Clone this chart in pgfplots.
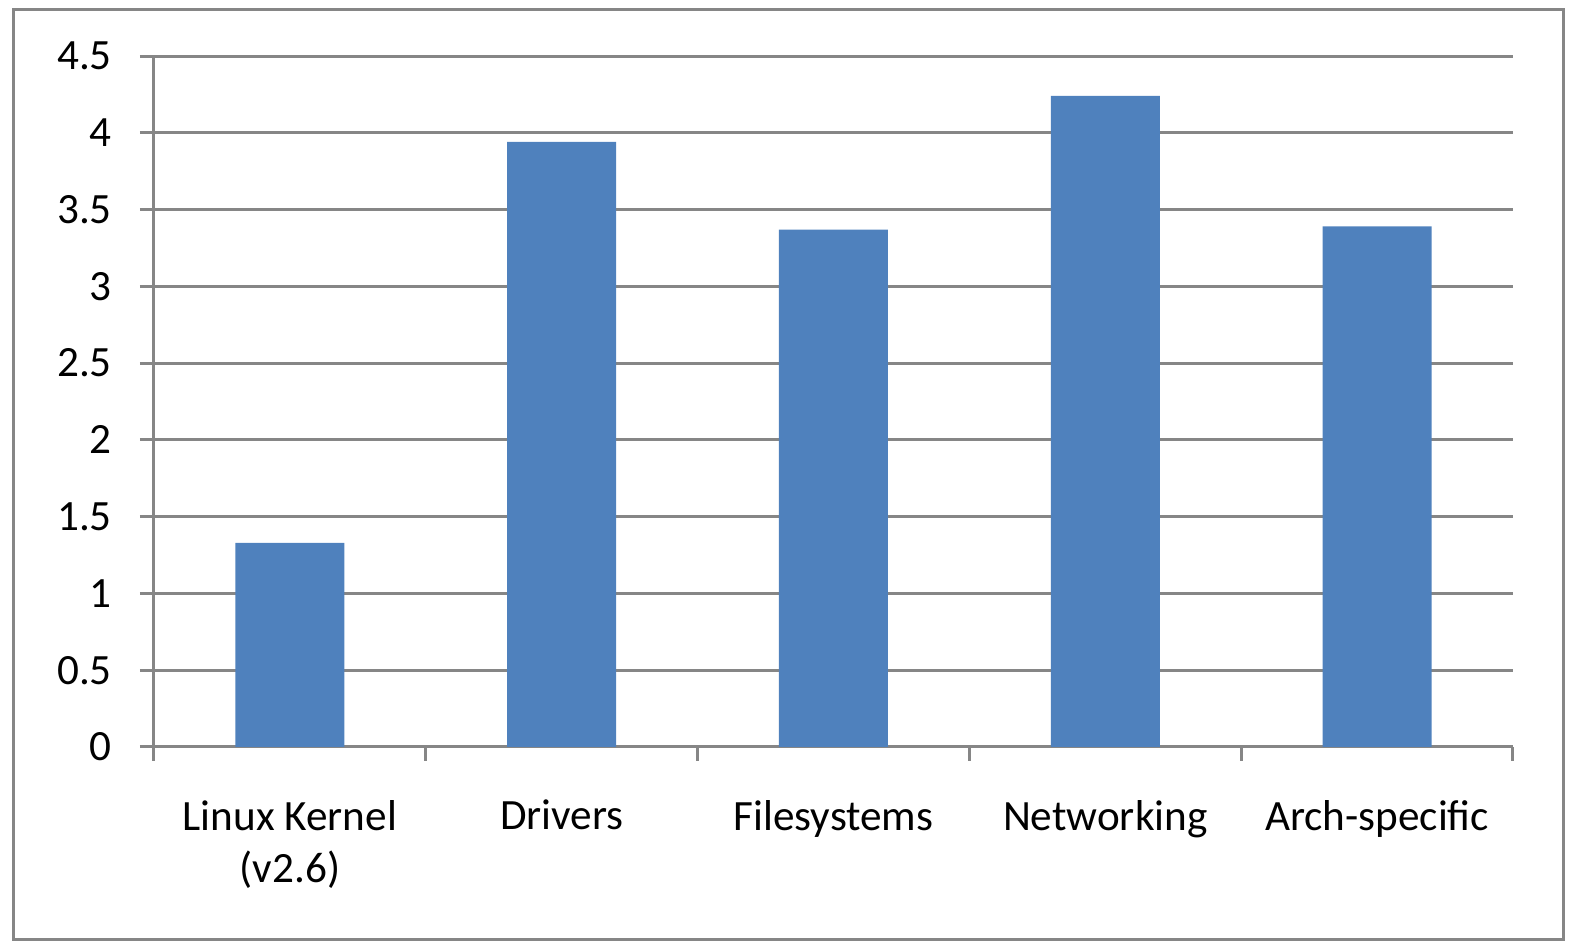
\documentclass[border=0pt]{standalone}
\usepackage{fontspec}
\setmainfont{Carlito}
\usepackage{pgfplots}
\pgfplotsset{compat=1.18}
\definecolor{barblue}{HTML}{4F81BD}
\definecolor{gridgray}{HTML}{868686}
\begin{document}
\begin{tikzpicture}
\draw[gridgray, line width=0.75pt] (3.25pt,-2.5pt) rectangle (390.75pt,-235pt);
\begin{axis}[
    at={(38.5pt,-186.75pt)}, anchor=south west,
    scale only axis, width=339.75pt, height=172.75pt,
    ybar, bar width=27.25pt,
    xmin=-0.5, xmax=4.5, ymin=0, ymax=4.5,
    ytick={0,0.5,1,1.5,2,2.5,3,3.5,4,4.5},
    xtick={-0.5,0.5,1.5,2.5,3.5,4.5},
    x tick label as interval,
    xticklabels={{Linux Kernel\\(v2.6)},Drivers,Filesystems,Networking,Arch-specific},
    axis x line*=bottom, axis y line*=left,
    axis line style={gridgray, line width=0.75pt, -},
    tick style={gridgray, line width=0.75pt},
    major tick length=3.5pt, tick align=outside,
    ymajorgrids, grid style={gridgray, line width=0.75pt},
    /pgf/number format/assume math mode=true,
    ticklabel style={font=\fontsize{10.8}{13.2}\selectfont, text=black},
    xticklabel style={align=center, yshift=-6.25pt},
    yticklabel style={xshift=-3.5pt},
]
\addplot[fill=barblue, draw=none] coordinates {(0,1.33) (1,3.94) (2,3.37) (3,4.24) (4,3.39)};
\end{axis}
\pgfresetboundingbox
\useasboundingbox (0,0) rectangle (394pt,-237.5pt);
\end{tikzpicture}
\end{document}
